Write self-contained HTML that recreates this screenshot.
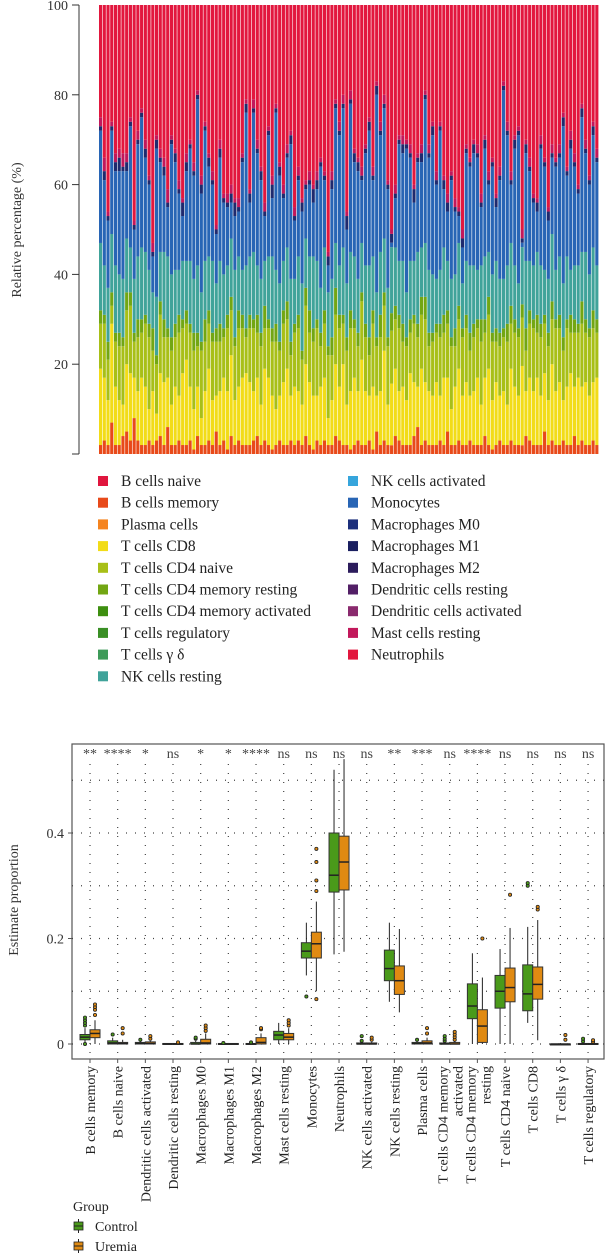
<!DOCTYPE html>
<html><head><meta charset="utf-8"><style>
html,body{margin:0;padding:0;background:#fff;}
svg{display:block;font-family:"Liberation Serif",serif;}
</style></head><body>
<svg id="chart" width="606" height="1253" viewBox="0 0 606 1253" xmlns="http://www.w3.org/2000/svg">
<g id="stack"></g>
<g id="legend1"></g>
<g id="box"></g>
</svg>
<script>
// ---------- stacked bar data (percent per sample) ----------
const neutrophils=[25,34,46,26,33,32,33,33,25,48, 28,23,30,38,53,29,32,34,41,29, 32,39,43,33,30,35,19,38,26,33, 37,49,30,42,42,40,43,43,33,21, 41,21,30,36,44,27,38,22,35,40, 31,28,45,36,43,39,37,40,37,34, 37,55,37,21,26,20,46,19,32,34, 36,31,25,36,17,26,20,39,51,40, 29,29,30,31,40,33,31,19,31,26, 37,26,38,42,37,43,45,50,31,34, 30,31,42,29,37,34,42,36,17,26, 37,29,27,51,30,34,42,43,29,34, 45,31,34,31,24,36,28,33,40,22, 30,38,26,32];
const bMemory=[2,3,2,7,2,2,4,5,3,8, 3,2,2,3,2,3,4,2,6,2, 2,3,2,2,3,1,4,2,2,3, 2,5,2,3,1,4,2,3,2,2, 2,3,4,2,3,2,1,2,3,2, 2,3,2,3,2,4,2,1,3,2, 3,2,2,4,3,2,2,1,2,3, 2,2,3,1,5,2,3,2,2,4, 3,2,2,2,4,6,2,3,2,2, 2,3,2,5,2,2,3,2,2,3, 2,2,2,4,2,1,2,3,2,2, 3,2,2,2,4,3,2,2,2,5, 2,3,2,2,3,2,2,4,2,3, 2,2,3,2];
const tCD8=[17,14,10,22,13,10,7,15,15,9, 11,15,13,7,12,6,14,14,11,9, 13,10,16,19,12,9,11,6,12,16, 10,8,12,14,13,18,10,12,15,16, 14,11,13,9,16,15,12,8,10,14, 17,10,13,11,9,16,14,12,10,13, 14,6,10,16,12,18,9,13,15,11, 19,12,10,14,8,12,20,9,14,15, 11,13,10,16,12,9,17,13,12,11, 14,10,15,12,8,13,16,11,14,10, 12,15,9,13,17,11,14,10,12,9, 16,13,11,18,10,14,12,15,11,13, 10,17,12,14,9,13,16,11,15,12, 14,11,13,15];
const tCD4naive=[10,12,9,4,10,12,13,12,15,8, 12,10,14,16,9,11,13,10,9,12, 11,14,10,8,12,13,9,15,11,10, 13,12,11,9,14,10,12,13,11,8, 12,14,10,13,9,11,12,15,10,13, 11,9,12,14,10,13,11,12,15,9, 12,14,10,11,13,9,12,14,11,10, 13,12,9,14,11,12,10,13,12,11, 14,10,12,9,13,11,12,14,10,12, 11,13,10,12,14,9,11,13,12,10, 12,11,14,10,12,13,9,11,12,14, 10,12,13,11,9,12,14,10,13,11, 12,10,14,12,11,13,9,12,10,14, 11,13,12,10];
const tCD4memRest=[3,2,4,3,2,3,2,4,3,2, 4,3,2,3,5,2,3,4,2,3, 3,4,2,3,2,4,3,2,5,3, 2,3,4,2,3,3,2,4,3,2, 3,2,4,3,5,2,3,4,2,3, 4,3,2,3,2,4,5,3,2,3, 3,2,4,6,3,2,3,4,2,3, 2,3,4,3,2,5,3,2,4,3, 3,4,2,3,2,3,4,5,3,2, 2,3,4,3,2,4,3,2,3,4, 3,2,5,3,4,2,3,3,2,4, 4,3,2,3,5,3,2,4,3,2, 3,4,2,3,3,2,4,3,2,5, 3,2,4,3];
const nkResting=[15,11,12,13,15,13,13,12,10,12, 14,16,14,12,8,13,11,15,16,14, 12,10,13,11,14,12,15,11,13,12, 16,10,14,12,11,13,15,12,10,14, 13,15,11,12,10,14,16,12,13,11, 12,14,10,13,15,11,12,16,13,10, 14,12,13,10,11,15,12,13,14,12, 11,13,16,12,10,14,12,11,15,13, 12,14,10,13,12,16,11,12,14,13, 10,12,15,11,13,12,14,10,12,15, 13,11,12,14,10,13,15,12,11,13, 14,12,10,13,15,11,12,14,13,10, 12,15,11,13,12,14,10,12,13,11, 15,12,14,12];
const macrophages=[1,2,1,1,2,3,1,2,1,1, 1,1,2,1,1,2,1,2,1,1, 2,1,3,2,1,1,1,2,1,2, 1,1,2,1,1,2,3,1,1,2, 2,1,1,2,1,1,3,1,2,1, 1,2,1,1,2,1,1,3,2,1, 1,2,2,1,1,1,3,1,2,2, 1,1,2,1,2,1,1,1,2,1, 1,2,1,1,3,1,2,1,1,2, 1,1,2,2,1,1,1,2,1,1, 2,1,1,2,1,1,2,1,1,1, 1,2,1,1,2,1,1,2,1,1, 2,1,1,1,2,1,2,1,1,2, 1,1,2,1];
const mastCells=[2,3,1,1,2,2,3,2,1,1, 2,1,2,1,2,1,2,2,3,1, 1,2,1,2,1,2,1,2,1,1, 2,1,2,1,2,2,1,2,1,1, 1,2,2,1,2,1,2,1,1,2, 2,1,2,2,1,1,2,1,2,1, 1,1,2,1,2,2,1,2,1,1, 2,1,1,2,1,2,2,1,1,2, 1,2,1,2,1,1,2,1,2,1, 2,1,1,2,1,2,1,2,1,1, 1,2,2,1,2,1,1,2,1,2, 2,1,1,2,1,2,1,1,2,1, 1,2,1,2,1,1,2,2,1,1, 2,1,1,2];
const stackTicks=[0,20,40,60,80,100];

// ---------- box plot data ----------
const categories=["B cells memory","B cells naive","Dendritic cells activated","Dendritic cells resting","Macrophages M0","Macrophages M1","Macrophages M2","Mast cells resting","Monocytes","Neutrophils","NK cells activated","NK cells resting","Plasma cells","T cells CD4 memory|activated","T cells CD4 memory|resting","T cells CD4 naive","T cells CD8","T cells \u03b3 \u03b4","T cells regulatory"];
const signif=["**","****","*","ns","*","*","****","ns","ns","ns","ns","**","***","ns","****","ns","ns","ns","ns"];
// [lowWhisker, q1, median, q3, highWhisker]
const controlStats=[[0,.008,.013,.018,.03],[0,0,.002,.006,.012],[0,0,.001,.003,.005],[0,0,0,.001,.001],[0,0,0,.003,.006],[0,0,0,.001,.001],[0,0,0,.001,.001],[0,.008,.017,.024,.04],[.13,.163,.176,.192,.23],[.17,.288,.32,.4,.52],[0,0,0,.002,.003],[.08,.12,.143,.178,.23],[0,0,.001,.003,.005],[0,0,0,.002,.004],[0,.048,.072,.114,.172],[0,.068,.1,.13,.18],[.04,.063,.095,.15,.222],[0,0,0,0,0],[0,0,0,.001,.002]];
const uremiaStats=[[0,.012,.02,.027,.045],[0,0,.001,.003,.008],[0,0,.001,.004,.006],[0,0,0,.001,.001],[0,0,.002,.009,.02],[0,0,0,.001,.001],[0,0,.003,.012,.02],[0,.008,.013,.02,.03],[.1,.163,.19,.212,.27],[.175,.292,.345,.394,.54],[0,0,0,.002,.004],[.06,.094,.12,.148,.218],[0,0,.002,.006,.012],[0,0,0,.003,.005],[0,.003,.034,.065,.126],[0,.08,.107,.144,.22],[.007,.085,.113,.146,.235],[0,0,0,0,0],[0,0,0,.001,.002]];
const controlOutliers=[[0,.035,.04,.045,.05],[.018],[.008],[],[.01,.012],[.002],[.003],[],[.09],[],[.006,.015],[],[.008],[.006,.01,.015],[],[],[.3,.305],[],[.005,.01]];
const uremiaOutliers=[[.055,.065,.07,.075],[.02,.03],[.01,.015],[.003],[.025,.03,.035],[],[.028,.03],[.035,.04,.045],[.085,.29,.31,.345,.37],[],[.008,.012],[],[.02,.03],[.008,.013,.018,.023],[.2],[.283],[.255,.26],[.008,.017],[.004,.007]];
const boxTicks=[0,0.2,0.4];
const gridTicks=[0,0.1,0.2,0.3,0.4,0.5];

const NS="http://www.w3.org/2000/svg";
function mk(tag,attrs,parent){const e=document.createElementNS(NS,tag);for(const k in attrs)e.setAttribute(k,attrs[k]);parent.appendChild(e);return e;}

// ===== stacked bars =====
const stack=document.getElementById('stack');
const N=neutrophils.length;
const sx0=99,sx1=599,sy0=454,sy1=5;
const bw=(sx1-sx0)/N;
const yS=v=>sy0-(v/100)*(sy0-sy1);
const layerColors={bMemory:"#e84a1a",tCD8:"#f2dc18",tCD4naive:"#a8bf17",tCD4memRest:"#72a613",nkResting:"#40a39a",mono:"#2865b5",macrophages:"#1f2a6e",mastCells:"#c2185b",neutrophils:"#e2173e"};
for(let i=0;i<N;i++){
  const lower=[["bMemory",bMemory[i]],["tCD8",tCD8[i]],["tCD4naive",tCD4naive[i]],["tCD4memRest",tCD4memRest[i]],["nkResting",nkResting[i]]];
  const upper=[["macrophages",macrophages[i]],["mastCells",mastCells[i]],["neutrophils",neutrophils[i]]];
  let sumOther=0;lower.concat(upper).forEach(p=>sumOther+=p[1]);
  const mono=Math.max(1,100-sumOther);
  const layers=lower.concat([["mono",mono]],upper);
  const tot=sumOther+mono;
  let acc=0;
  const g=mk('g',{},stack);
  
  
  layers.forEach(([k,v])=>{
    const val=v*100/tot;
    const r=mk('rect',{x:(sx0+i*bw).toFixed(2),y:yS(acc+val).toFixed(2),width:(bw-0.6).toFixed(2),height:(yS(acc)-yS(acc+val)).toFixed(2),fill:layerColors[k]},g);
    
    
    acc+=val;
  });
}
const ax=mk('line',{x1:79,x2:79,y1:yS(0),y2:yS(100),stroke:"#333","stroke-width":1},stack);


stackTicks.forEach(t=>{
  const l=mk('line',{x1:72,x2:79,y1:yS(t),y2:yS(t),stroke:"#333"},stack);
  
  
  if(t>0){
    const tx=mk('text',{x:68,y:yS(t)+5,"text-anchor":"end","font-size":14,fill:"#333"},stack);
    tx.textContent=t;
    
    
  }
});
const st=mk('text',{x:0,y:0,transform:"translate(21,230) rotate(-90)","text-anchor":"middle","font-size":14,fill:"#333"},stack);
st.textContent="Relative percentage (%)";



// ===== legend =====
const legend=document.getElementById('legend1');
const leftItems=[["B cells naive","#e0163e"],["B cells memory","#e84a1a"],["Plasma cells","#f5841f"],["T cells CD8","#f2dc18"],["T cells CD4 naive","#a8bf17"],["T cells CD4 memory resting","#72a613"],["T cells CD4 memory activated","#3e8f10"],["T cells regulatory","#3a8f25"],["T cells \u03b3 \u03b4","#3e9b59"],["NK cells resting","#40a39a"]];
const rightItems=[["NK cells activated","#36a5dc"],["Monocytes","#2865b5"],["Macrophages M0","#1c2f7c"],["Macrophages M1","#1a1f60"],["Macrophages M2","#2c1c5c"],["Dendritic cells resting","#521f66"],["Dendritic cells activated","#8a2a6e"],["Mast cells resting","#c2185b"],["Neutrophils","#e2173e"]];
[[leftItems,98,121],[rightItems,348,371]].forEach(([items,sxx,txx])=>{
  items.forEach(([name,c],i)=>{
    const y=481+i*21.7;
    const g=mk('g',{},legend);
    
    
    mk('rect',{x:sxx,y:y-5,width:10,height:10,fill:c},g);
    const t=mk('text',{x:txx,y:y+5,"font-size":15.5,fill:"#222"},g);
    t.textContent=name;
  });
});

// ===== box plot =====
const box=document.getElementById('box');
const px0=72,px1=605,py0=744,py1=1059;
const yB=v=>1044-v*527.5;
const xC=i=>90+i*27.67;
mk('rect',{x:px0,y:py0,width:px1-px0-1,height:py1-py0,fill:"none",stroke:"#555","stroke-width":1.2},box);
gridTicks.forEach(t=>{
  const l=mk('line',{x1:px0,x2:px1,y1:yB(t),y2:yB(t),stroke:"#444","stroke-width":1.2,"stroke-dasharray":"1 8"},box);
  
  
});
categories.forEach((c,i)=>{
  const l=mk('line',{x1:xC(i),x2:xC(i),y1:py0+20,y2:py1,stroke:"#444","stroke-width":1.2,"stroke-dasharray":"1 8"},box);
  
  
});
boxTicks.forEach(t=>{
  const l=mk('line',{x1:px0-4,x2:px0,y1:yB(t),y2:yB(t),stroke:"#555"},box);
  
  
  const tx=mk('text',{x:px0-8,y:yB(t)+5,"text-anchor":"end","font-size":14,fill:"#333"},box);
  tx.textContent=t===0?"0":String(t);
  
  
});
const bt=mk('text',{x:0,y:0,transform:"translate(18,900) rotate(-90)","text-anchor":"middle","font-size":14,fill:"#333"},box);
bt.textContent="Estimate proportion";



function drawBox(i,s,outs,dx,fill,name){
  const cx=xC(i)+dx,w=10;
  const g=mk('g',{},box);
  
  
  mk('line',{x1:cx,x2:cx,y1:yB(s[0]),y2:yB(s[4]),stroke:"#222","stroke-width":1},g);
  mk('rect',{x:cx-w/2,y:yB(s[3]),width:w,height:Math.max(1,yB(s[1])-yB(s[3])),fill:fill,stroke:"#333","stroke-width":1},g);
  mk('line',{x1:cx-w/2,x2:cx+w/2,y1:yB(s[2]),y2:yB(s[2]),stroke:"#222","stroke-width":1.5},g);
  outs.forEach(o=>{mk('circle',{cx:cx,cy:yB(o),r:1.6,fill:fill,stroke:"#222","stroke-width":0.8},g);});
}
categories.forEach((c,i)=>{
  drawBox(i,controlStats[i],controlOutliers[i],-5,"#4a9a1a",'box-control');
  drawBox(i,uremiaStats[i],uremiaOutliers[i],5,"#e08a12",'box-uremia');
  const s=mk('text',{x:xC(i),y:758,"text-anchor":"middle","font-size":14,fill:"#444"},box);
  s.textContent=signif[i];
  
  
  const tk=mk('line',{x1:xC(i),x2:xC(i),y1:py1,y2:py1+4,stroke:"#555"},box);
  
  
  const parts=c.split('|');
  const t=mk('text',{transform:`translate(${xC(i)+5 - (parts.length-1)*7},${py1+7}) rotate(-90)`,"text-anchor":"end","font-size":14,fill:"#222"},box);
  
  
  parts.forEach((p,k)=>{const ts=mk('tspan',{x:0,dy:k===0?0:15},t);ts.textContent=p;});
});
// group legend
const gl=mk('g',{},box);


const gt=mk('text',{x:73,y:1211,"font-size":14,fill:"#222"},gl);gt.textContent="Group";
[["Control","#4a9a1a",1226],["Uremia","#e08a12",1246]].forEach(([n,c,y])=>{
  const e=mk('g',{},gl);
  
  
  mk('line',{x1:78.5,x2:78.5,y1:y-7,y2:y+7,stroke:"#222"},e);
  mk('rect',{x:74,y:y-4,width:9,height:8,fill:c,stroke:"#222","stroke-width":0.8},e);
  mk('line',{x1:74,x2:83,y1:y,y2:y,stroke:"#222"},e);
  const t=mk('text',{x:95,y:y+5,"font-size":14,fill:"#222"},e);t.textContent=n;
});
</script>
</body></html>
